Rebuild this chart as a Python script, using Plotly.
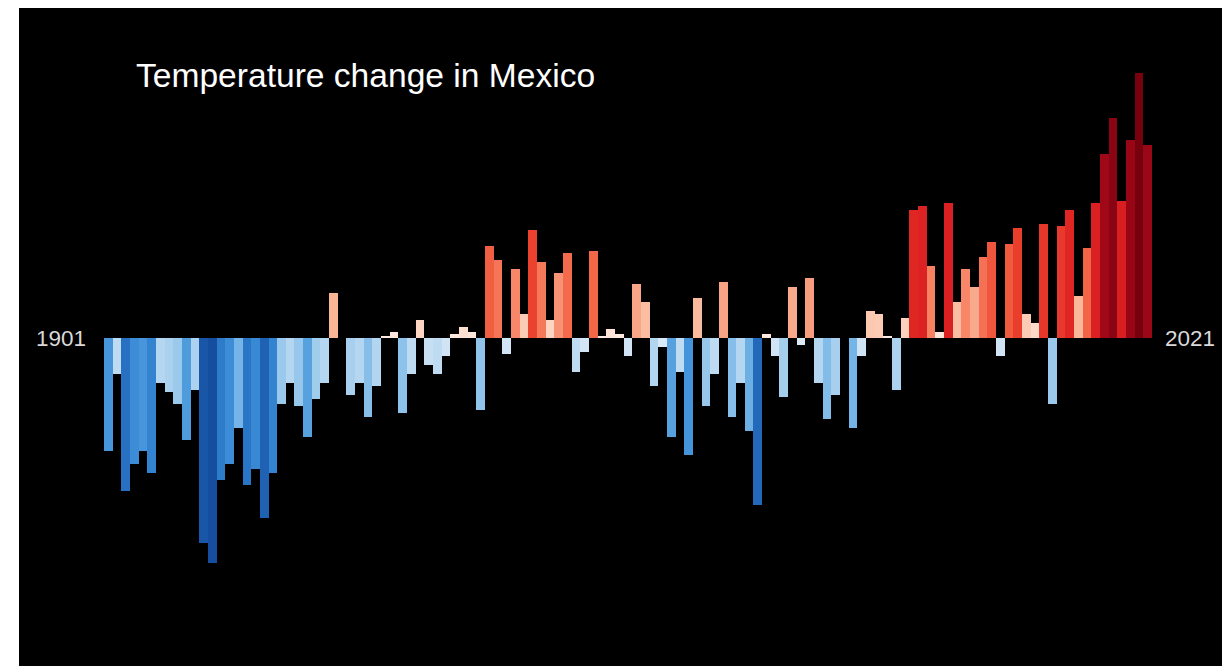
import plotly.graph_objects as go

# ---- data ----
years = list(range(1901, 2022))
anomaly = [
    -0.50, -0.16, -0.68, -0.56, -0.50, -0.60, -0.20, -0.24, -0.29, -0.45,  # 1901-1910
    -0.23, -0.91, -1.00, -0.63, -0.56, -0.40, -0.65, -0.58, -0.80, -0.60,  # 1911-1920
    -0.29, -0.20, -0.30, -0.44, -0.27, -0.20, 0.20, 0.00, -0.25, -0.20,    # 1921-1930
    -0.35, -0.21, 0.01, 0.03, -0.33, -0.16, 0.08, -0.12, -0.16, -0.08,     # 1931-1940
    0.02, 0.05, 0.03, -0.32, 0.41, 0.35, -0.07, 0.31, 0.11, 0.48,          # 1941-1950
    0.34, 0.08, 0.29, 0.38, -0.15, -0.06, 0.39, 0.01, 0.04, 0.02,          # 1951-1960
    -0.08, 0.24, 0.16, -0.21, -0.04, -0.44, -0.15, -0.52, 0.18, -0.30,     # 1961-1970
    -0.16, 0.25, -0.35, -0.20, -0.41, -0.74, 0.02, -0.08, -0.26, 0.23,     # 1971-1980
    -0.03, 0.27, -0.20, -0.36, -0.25, 0.00, -0.40, -0.08, 0.12, 0.11,      # 1981-1990
    0.01, -0.23, 0.09, 0.57, 0.59, 0.32, 0.03, 0.60, 0.16, 0.31,           # 1991-2000
    0.23, 0.36, 0.43, -0.08, 0.42, 0.49, 0.11, 0.07, 0.51, -0.29,          # 2001-2010
    0.50, 0.57, 0.19, 0.40, 0.60, 0.82, 0.98, 0.61, 0.88, 1.18,            # 2011-2020
    0.86,                                                                  # 2021
]
title_text = "Temperature change in Mexico"
start_label = "1901"
end_label = "2021"

# ---- style ----
cmin, cmax = -1.2, 1.2
stops = [
    (-1.20, "#0e4080"), (-1.00, "#154e9e"), (-0.85, "#1c5cae"), (-0.75, "#2266b8"),
    (-0.65, "#2a76c6"), (-0.58, "#3888d4"), (-0.52, "#4494dc"), (-0.45, "#4e9cdc"),
    (-0.40, "#74b4e6"), (-0.32, "#90c4ea"), (-0.25, "#a8d0ee"), (-0.15, "#c0dcf2"),
    (-0.06, "#d4e6f6"), (-0.001, "#e4eef8"),
    (0.001, "#fdeee8"), (0.05, "#fde0d2"), (0.12, "#fcc8b0"), (0.20, "#fab496"),
    (0.28, "#f8987a"), (0.33, "#f67c5c"), (0.40, "#f26446"), (0.47, "#ec4430"),
    (0.55, "#e22a24"), (0.62, "#d81c22"), (0.72, "#b80e1c"), (0.82, "#a00818"),
    (0.95, "#8e0414"), (1.20, "#75000d"),
]
colorscale = [[(v - cmin) / (cmax - cmin), c] for v, c in stops]

fig = go.Figure(
    go.Bar(
        x=years,
        y=anomaly,
        width=1.0,
        marker=dict(color=anomaly, colorscale=colorscale, cmin=cmin, cmax=cmax,
                    line=dict(width=0)),
        hoverinfo="skip",
    )
)

fig.update_layout(
    width=1222,
    height=666,
    margin=dict(l=19, r=0, t=8, b=0),
    paper_bgcolor="white",
    plot_bgcolor="black",
    bargap=0,
    showlegend=False,
    xaxis=dict(range=[1890.69, 2029.6], visible=False, fixedrange=True),
    yaxis=dict(range=[-1.456, 1.468], visible=False, fixedrange=True),
    annotations=[
        dict(text=title_text, xref="paper", yref="paper", x=0.0955, y=0.8967,
             xanchor="left", yanchor="middle", showarrow=False,
             font=dict(family="Liberation Sans, Arial", size=33.6, color="#ffffff")),
        dict(text=start_label, xref="paper", yref="y", x=0.0574, y=0,
             xanchor="right", yanchor="middle", showarrow=False,
             font=dict(family="Liberation Sans, Arial", size=22.5, color="#d9d9d9")),
        dict(text=end_label, xref="paper", yref="y", x=0.951, y=0,
             xanchor="left", yanchor="middle", showarrow=False,
             font=dict(family="Liberation Sans, Arial", size=22.5, color="#d9d9d9")),
    ],
)

fig.write_html(
    "out.html",
    config={"displayModeBar": False},
    post_script="document.documentElement.style.overflow='hidden';"
                "document.body.style.overflow='hidden';"
                "document.body.style.margin='0';",
)
